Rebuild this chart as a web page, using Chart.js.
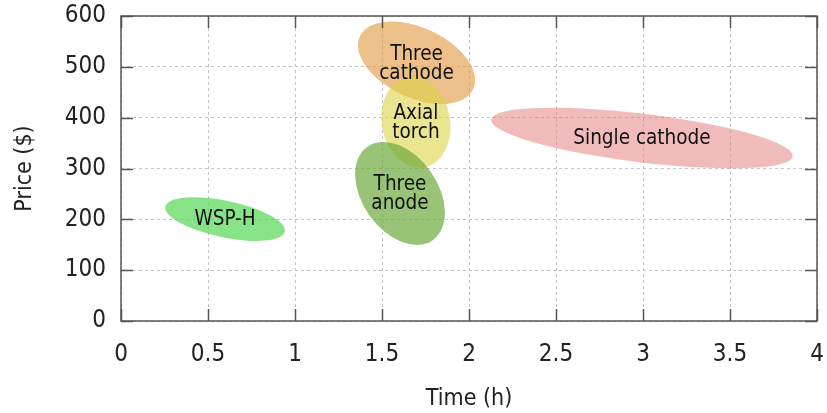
<!DOCTYPE html>
<html>
<head>
<meta charset="utf-8">
<script src="https://cdn.jsdelivr.net/npm/chart.js@4/dist/chart.umd.min.js"></script>
<style>
  html, body { margin: 0; padding: 0; background: #fff; }
  #wrap { width: 827px; height: 413px; }
</style>
</head>
<body>
<div id="wrap"><canvas id="priceChart" width="827" height="413"></canvas></div>
<script>
// process groups, each drawn as an ellipse between two ends of its long axis
const groups = ["WSP-H", "Three cathode", "Axial torch", "Three anode", "Single cathode"];
const groupLines = [["WSP-H"], ["Three", "cathode"], ["Axial", "torch"], ["Three", "anode"], ["Single cathode"]];
const timeFrom = [0.255, 1.373, 1.649, 1.416, 2.127];
const priceFrom = [225, 560, 481, 343, 396];
const timeTo = [0.941, 2.024, 1.741, 1.791, 3.861];
const priceTo = [176, 456, 302, 159, 324];
const widthRatio = [0.30, 0.56, 0.74, 0.66, 0.16];
const groupColors = [
  "rgba(90, 215, 90, 0.72)",
  "rgba(225, 150, 60, 0.6)",
  "rgba(222, 210, 70, 0.6)",
  "rgba(110, 170, 60, 0.7)",
  "rgba(230, 120, 120, 0.5)"
];

const timeTicks = [0, 0.5, 1, 1.5, 2, 2.5, 3, 3.5, 4];
const priceTicks = [0, 100, 200, 300, 400, 500, 600];

const FONT = '"DejaVu Sans Condensed", "Noto Sans", sans-serif';

const datasets = groups.map((g, i) => ({
  label: g,
  data: [{x: timeFrom[i], y: priceFrom[i]}, {x: timeTo[i], y: priceTo[i]}],
  backgroundColor: groupColors[i],
  pointRadius: 0,
  showLine: false
}));

const ellipsePlugin = {
  id: "ellipses",
  afterDatasetsDraw(chart) {
    const ctx = chart.ctx;
    const area = chart.chartArea;
    ctx.save();
    ctx.beginPath();
    ctx.rect(area.left, area.top, area.right - area.left, area.bottom - area.top);
    ctx.clip();
    chart.data.datasets.forEach((ds, i) => {
      const pts = chart.getDatasetMeta(i).data;
      const a = pts[0], b = pts[1];
      const cx = (a.x + b.x) / 2, cy = (a.y + b.y) / 2;
      const r = Math.hypot(b.x - a.x, b.y - a.y) / 2;
      const ang = Math.atan2(b.y - a.y, b.x - a.x);
      ctx.beginPath();
      ctx.ellipse(cx, cy, r, r * widthRatio[i], ang, 0, Math.PI * 2);
      ctx.fillStyle = ds.backgroundColor;
      ctx.fill();
    });
    // labels
    ctx.fillStyle = "#111";
    ctx.font = "20.5px " + FONT;
    ctx.textAlign = "center";
    ctx.textBaseline = "middle";
    chart.data.datasets.forEach((ds, i) => {
      const pts = chart.getDatasetMeta(i).data;
      const cx = (pts[0].x + pts[1].x) / 2, cy = (pts[0].y + pts[1].y) / 2;
      const lines = groupLines[i];
      const lh = 19;
      lines.forEach((t, k) => {
        ctx.fillText(t, cx, cy + 1 + (k - (lines.length - 1) / 2) * lh);
      });
    });
    ctx.restore();
  },
  afterDraw(chart) {
    const ctx = chart.ctx;
    const {left, right, top, bottom} = chart.chartArea;
    const xs = chart.scales.x, ys = chart.scales.y;
    ctx.save();
    ctx.strokeStyle = "#555";
    ctx.lineWidth = 1.5;
    ctx.strokeRect(left, top, right - left, bottom - top);
    ctx.beginPath();
    xs.ticks.forEach(t => {
      const px = Math.round(xs.getPixelForValue(t.value)) + 0.5;
      ctx.moveTo(px, bottom); ctx.lineTo(px, bottom - 12);
      ctx.moveTo(px, top); ctx.lineTo(px, top + 12);
    });
    ys.ticks.forEach(t => {
      const py = Math.round(ys.getPixelForValue(t.value)) + 0.5;
      ctx.moveTo(left, py); ctx.lineTo(left + 12, py);
      ctx.moveTo(right, py); ctx.lineTo(right - 12, py);
    });
    ctx.stroke();
    ctx.restore();
  }
};

const ctx = document.getElementById("priceChart").getContext("2d");
new Chart(ctx, {
  type: "scatter",
  data: { datasets: datasets },
  plugins: [ellipsePlugin],
  options: {
    responsive: false,
    animation: false,
    layout: { autoPadding: false, padding: { top: 16, right: 10, left: 0, bottom: 0 } },
    plugins: {
      legend: { display: false },
      tooltip: { enabled: false }
    },
    scales: {
      x: {
        type: "linear",
        min: timeTicks[0],
        max: timeTicks[timeTicks.length - 1],
        afterBuildTicks: s => { s.ticks = timeTicks.map(v => ({value: v})); },
        afterFit: s => { s.height = 92; s.paddingLeft = 0; s.paddingRight = 0; },
        grid: { color: "#c4c4c4", lineWidth: 1, drawTicks: false },
        border: { display: false, dash: [3, 3] },
        ticks: { padding: 19, color: "#222", font: { family: FONT, size: 24 }, callback: v => String(v) },
        title: {
          display: true, text: "Time (h)", color: "#222",
          padding: { top: 0, bottom: 0 },
          font: { family: FONT, size: 23 }
        }
      },
      y: {
        type: "linear",
        min: priceTicks[0],
        max: priceTicks[priceTicks.length - 1],
        afterBuildTicks: s => { s.ticks = priceTicks.map(v => ({value: v})); },
        afterFit: s => { s.width = 121; s.paddingTop = 0; s.paddingBottom = 0; },
        grid: { color: "#c4c4c4", lineWidth: 1, drawTicks: false },
        border: { display: false, dash: [3, 3] },
        ticks: { padding: 15, color: "#222", font: { family: FONT, size: 24 }, callback: v => String(v) },
        title: {
          display: true, text: "Price ($)", color: "#222",
          padding: { top: 11, bottom: 0 },
          font: { family: FONT, size: 23 }
        }
      }
    }
  }
});
</script>
</body>
</html>
